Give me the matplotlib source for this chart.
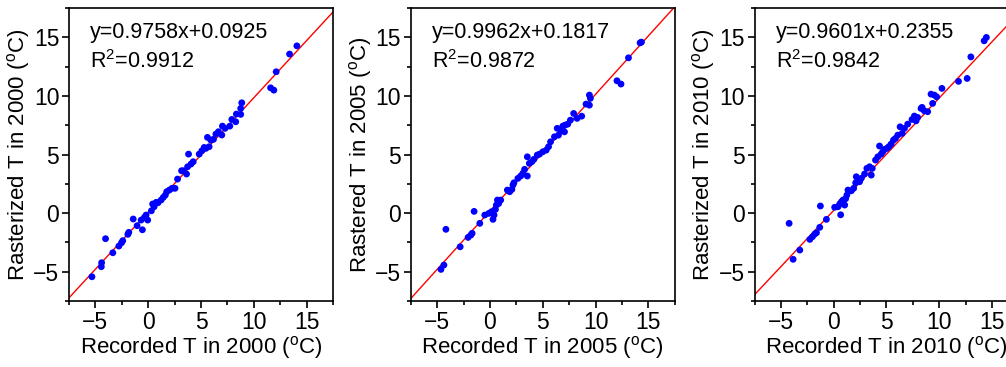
## Rasterized vs recorded temperature, three years

import numpy as np
import matplotlib
matplotlib.use('Agg')
import matplotlib.pyplot as plt
from matplotlib.ticker import MultipleLocator

plt.rcParams['font.family'] = ['Liberation Sans', 'DejaVu Sans']
plt.rcParams['mathtext.fontset'] = 'custom'
plt.rcParams['mathtext.rm'] = 'Liberation Sans'
plt.rcParams['mathtext.it'] = 'Liberation Sans'

years = ['2000', '2005', '2010']
ylabel_words = ['Rasterized', 'Rastered', 'Rasterized']
slopes = [0.9758, 0.9962, 0.9601]
intercepts = [0.0925, 0.1817, 0.2355]
r2_values = ['0.9912', '0.9872', '0.9842']

# values
rec_2000 = [-5.33, -4.44, -4.41, -4.04, -3.35, -2.78, -2.53, -2.41, -1.93, -1.84,
            -1.42, -1.05, -0.55, -0.67, -0.36, -0.20, -0.05, 0.30, 0.42, 0.56,
            0.75, 0.93, 1.22, 1.43, 1.62, 1.75, 2.00, 2.26, 2.54, 2.78,
            3.16, 3.32, 3.63, 3.73, 4.05, 4.26, 3.82, 4.83, 5.08, 5.30,
            5.46, 5.61, 5.77, 5.93, 6.18, 6.41, 6.65, 6.97, 7.03, 7.28,
            7.73, 7.92, 8.29, 8.35, 8.76, 8.86, 8.76, 11.59, 11.90, 12.12,
            13.39, 14.08]
ras_2000 = [-5.43, -4.57, -4.23, -2.18, -3.38, -2.81, -2.53, -2.35, -1.81, -1.64,
            -0.50, -1.07, -1.42, -0.59, -0.36, -0.16, -0.59, 0.20, 0.78, 0.55,
            0.92, 0.89, 1.12, 1.35, 1.54, 1.83, 1.97, 2.12, 2.12, 2.91,
            3.62, 3.62, 3.34, 3.96, 4.19, 4.39, 5.04, 5.04, 5.32, 5.61,
            5.53, 6.47, 5.67, 6.24, 6.30, 6.75, 6.95, 6.67, 7.43, 7.24,
            7.43, 8.00, 7.80, 8.46, 8.94, 9.42, 8.43, 10.70, 10.50, 12.07,
            13.58, 14.28]

rec_2005 = [-4.64, -4.36, -4.17, -2.82, -2.07, -1.81, -1.69, -1.50, -0.96, -0.49,
            -0.11, 0.14, 0.29, 0.39, 0.52, 0.61, 0.71, 0.83, 1.02, 1.65,
            1.87, 2.08, 2.18, 2.27, 2.65, 2.91, 3.12, 3.28, 3.54, 3.54,
            3.73, 3.97, 4.16, 4.48, 4.70, 5.01, 5.33, 5.55, 5.74, 6.11,
            6.37, 6.49, 6.75, 6.90, 7.12, 7.06, 7.37, 7.62, 7.93, 8.25,
            8.69, 9.10, 9.42, 9.51, 9.42, 12.03, 12.41, 13.12, 14.22, 14.35]
ras_2005 = [-4.80, -4.43, -1.38, -2.87, -2.07, -1.87, -1.72, 0.15, -0.87, -0.16,
            -0.02, 0.12, -0.53, -0.16, 0.32, 0.69, 1.12, 0.83, 1.12, 1.97,
            1.83, 2.03, 2.40, 2.59, 2.97, 3.17, 3.40, 3.74, 3.17, 4.81,
            4.25, 4.39, 4.59, 4.96, 5.04, 5.24, 5.38, 5.67, 6.09, 6.52,
            7.24, 6.66, 7.03, 7.43, 7.52, 6.94, 7.60, 7.94, 8.51, 8.09,
            8.28, 9.31, 10.08, 9.80, 9.22, 11.30, 11.02, 13.26, 14.54, 14.60]

rec_2010 = [-4.22, -3.84, -3.21, -2.26, -2.01, -1.79, -1.63, -1.32, -1.26, -0.69,
            0.09, 0.41, 0.57, 0.66, 0.73, 0.88, 1.04, 1.13, 1.25, 1.35,
            1.67, 1.89, 2.08, 2.14, 2.29, 2.45, 2.61, 2.92, 3.14, 3.40,
            3.56, 3.65, 3.96, 4.18, 4.34, 4.50, 4.65, 4.81, 5.03, 5.22,
            5.44, 5.66, 5.85, 6.07, 6.29, 6.48, 6.70, 7.01, 7.42, 7.64,
            7.80, 7.95, 8.27, 8.37, 8.58, 8.90, 9.22, 9.37, 9.53, 9.75,
            10.25, 11.82, 12.64, 12.99, 14.25, 14.46]
ras_2010 = [-0.87, -3.94, -3.15, -2.24, -2.01, -1.78, -1.67, -1.21, 0.61, -0.53,
            0.50, 0.55, 0.78, -0.14, 0.97, 1.12, 0.69, 1.23, 1.54, 1.97,
            1.91, 2.12, 2.59, 3.11, 2.82, 2.68, 2.97, 3.34, 3.82, 3.96,
            3.25, 3.82, 4.53, 4.81, 5.73, 5.04, 5.24, 5.44, 5.53, 5.67,
            5.90, 6.24, 6.38, 6.66, 7.37, 6.81, 7.24, 7.60, 8.00, 8.29,
            7.88, 8.17, 8.94, 9.03, 8.74, 8.66, 10.16, 9.37, 10.08, 9.93,
            10.65, 11.25, 11.50, 13.34, 14.71, 15.00]

recorded = [rec_2000, rec_2005, rec_2010]
rasterized = [ras_2000, ras_2005, ras_2010]

fig = plt.figure(figsize=(10.06, 3.67), dpi=100)
lefts = [0.0686, 0.4083, 0.750]

for i in range(3):
    ax = fig.add_axes([lefts[i], 0.1798, 0.2624, 0.798])
    xline = np.array([-7.5, 17.5])
    ax.plot(xline, slopes[i] * xline + intercepts[i], color='red', lw=1.0, zorder=2)
    ax.scatter(recorded[i], rasterized[i], s=24, color='blue', edgecolors='none', zorder=3)
    ax.set_xlim(-7.5, 17.5)
    ax.set_ylim(-7.5, 17.5)
    ax.xaxis.set_major_locator(MultipleLocator(5))
    ax.yaxis.set_major_locator(MultipleLocator(5))
    ax.xaxis.set_minor_locator(MultipleLocator(2.5))
    ax.yaxis.set_minor_locator(MultipleLocator(2.5))
    ax.tick_params(which='major', direction='out', length=5, width=1.2, labelsize=16.5, pad=2)
    ax.tick_params(which='minor', direction='out', length=3, width=1.2)
    for sp in ax.spines.values():
        sp.set_linewidth(1.2)
    ax.set_xlabel('Recorded T in %s ($^{\\mathrm{o}}$C)' % years[i], fontsize=16, labelpad=0)
    ax.set_ylabel('%s T in %s ($^{\\mathrm{o}}$C)' % (ylabel_words[i], years[i]), fontsize=16, labelpad=1)
    ax.text(0.08, 0.918, 'y=%.4fx+%.4f' % (slopes[i], intercepts[i]), transform=ax.transAxes,
            fontsize=15.5, va='center', ha='left')
    ax.text(0.08, 0.816, 'R$^{2}$=' + r2_values[i], transform=ax.transAxes,
            fontsize=15.5, va='center', ha='left')

fig.savefig('out.png', dpi=100)
